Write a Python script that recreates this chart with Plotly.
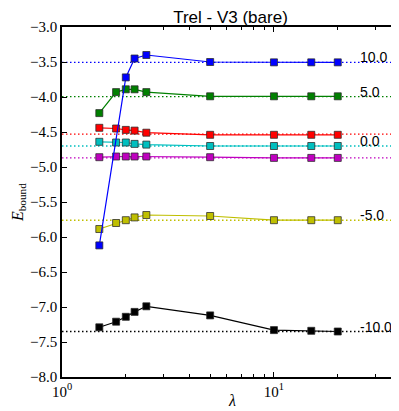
import numpy as np
import plotly.graph_objects as go

# ---- data ----
lam = [1.5, 1.8, 2.0, 2.2, 2.5, 5, 10, 15, 20]
lam_blue = [1.5, 2.0, 2.2, 2.5, 5, 10, 15, 20]

E_m10 = [-7.29, -7.21, -7.14, -7.07, -6.99, -7.12, -7.33, -7.34, -7.35]
E_m5 = [-5.886, -5.80, -5.76, -5.72, -5.686, -5.70, -5.76, -5.76, -5.76]
E_mag = [-4.86, -4.85, -4.85, -4.85, -4.85, -4.86, -4.87, -4.87, -4.87]
E_0 = [-4.64, -4.65, -4.65, -4.67, -4.68, -4.70, -4.70, -4.70, -4.70]
E_red = [-4.44, -4.45, -4.47, -4.48, -4.51, -4.54, -4.54, -4.54, -4.54]
E_5 = [-4.23, -3.93, -3.89, -3.89, -3.93, -3.99, -3.99, -3.99, -3.99]
E_10 = [-6.12, -3.72, -3.45, -3.40, -3.50, -3.505, -3.505, -3.505]

ref_m10 = -7.35
ref_m5 = -5.76
ref_mag = -4.87
ref_0 = -4.70
ref_red = -4.53
ref_5 = -3.995
ref_10 = -3.505

label_texts = ["-10.0", "-5.0", "0.0", "5.0", "10.0"]
label_refs = [ref_m10, ref_m5, ref_0, ref_5, ref_10]
label_x = 25

x_lim = [1, 38.9]
y_ticks = [-8.0, -7.5, -7.0, -6.5, -6.0, -5.5, -5.0, -4.5, -4.0, -3.5, -3.0]
x_major = [1, 10]
x_major_text = ["10<sup>0</sup>", "10<sup>1</sup>"]
x_minor = [2, 3, 4, 5, 6, 7, 8, 9, 20, 30]

series = [
    (lam, E_m10, ref_m10, "#000000"),
    (lam, E_m5, ref_m5, "#bfbf00"),
    (lam, E_mag, ref_mag, "#bf00bf"),
    (lam, E_0, ref_0, "#00bfbf"),
    (lam, E_red, ref_red, "#ff0000"),
    (lam, E_5, ref_5, "#008000"),
    (lam_blue, E_10, ref_10, "#0000ff"),
]

# page body has an 8px default margin
OFF = 8
W, H = 399 - OFF, 411 - OFF
L, T, B = 62 - OFF, 27 - OFF, 411 - 377
PW = W - L
PH = H - T - B

fig = go.Figure()

# dotted reference lines
for xs, ys, ref, col in series:
    fig.add_trace(go.Scatter(
        x=x_lim, y=[ref, ref], mode="lines",
        line=dict(color=col, width=1.4, dash="1.5px,2.5px"),
        hoverinfo="skip", showlegend=False,
    ))

for xs, ys, ref, col in series:
    fig.add_trace(go.Scatter(
        x=xs, y=ys, mode="lines+markers",
        line=dict(color=col, width=1.2),
        marker=dict(symbol="square", size=7, color=col,
                    line=dict(color="rgba(40,40,40,0.75)", width=1)),
        showlegend=False,
    ))

annotations = []
for txt, ref in zip(label_texts, label_refs):
    annotations.append(dict(
        x=np.log10(label_x), y=ref, xref="x", yref="y", text=txt,
        showarrow=False, xanchor="left", yanchor="middle", yshift=5,
        font=dict(family="Liberation Sans", size=14, color="black"),
    ))

annotations.append(dict(
    x=(18 - 62) / PW, y=0.5, xref="paper", yref="paper",
    text="<i>E</i><sub>bound</sub>", showarrow=False, textangle=-90,
    xanchor="center", yanchor="middle",
    font=dict(family="Liberation Serif", size=16, color="black"),
))
annotations.append(dict(
    x=(232 - 62) / PW, y=(377 - 411) / PH, xref="paper", yref="paper",
    text="<i>λ</i>", showarrow=False, xanchor="center", yanchor="bottom",
    font=dict(family="Liberation Serif", size=16, color="black"),
))

fig.update_layout(
    width=W, height=H,
    margin=dict(l=L, r=0, t=T, b=B, autoexpand=False),
    paper_bgcolor="white", plot_bgcolor="white",
    title=dict(text="Trel - V3 (bare)", x=(230.5 - OFF) / W, xanchor="center",
               y=1 - 3 / H, yanchor="top", pad=dict(t=0, b=0),
               font=dict(family="Liberation Sans", size=17, color="black")),
    annotations=annotations,
    xaxis=dict(
        type="log", range=[np.log10(x_lim[0]), np.log10(x_lim[1])],
        showgrid=False, zeroline=False, automargin=False,
        showline=True, linecolor="black", linewidth=1.5, mirror="allticks",
        ticks="inside", ticklen=5, tickwidth=1, tickcolor="black",
        tickvals=x_major, ticktext=x_major_text,
        tickfont=dict(family="Liberation Serif", size=15, color="black"),
        minor=dict(tickvals=x_minor, ticks="inside", ticklen=3,
                   tickcolor="black", tickwidth=1, showgrid=False),
    ),
    yaxis=dict(
        range=[-8, -3], showgrid=False, zeroline=False, automargin=False,
        showline=True, linecolor="black", linewidth=1.5, mirror="allticks",
        ticks="inside", ticklen=5, tickwidth=1, tickcolor="black",
        tickvals=y_ticks, tickformat=".1f",
        tickfont=dict(family="Liberation Serif", size=15, color="black"),
    ),
)

fig.write_html("out.html")
